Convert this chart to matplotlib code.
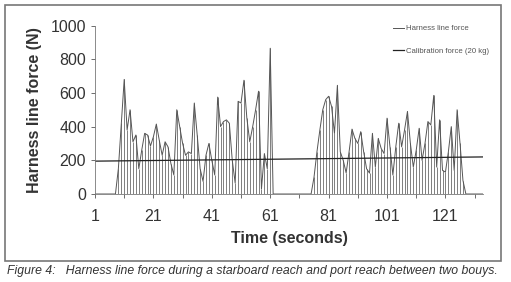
import numpy as np
import matplotlib
matplotlib.use("Agg")
import matplotlib.pyplot as plt

# time in seconds (category axis 1..134)
seconds = list(range(1, 135))

# harness line force (N), one value per second
harness_force = [
    0, 0, 0, 0, 0, 0, 0, 0, 150, 420,
    680, 380, 500, 310, 350, 150, 260, 360, 350, 285,
    340, 415, 320, 230, 310, 280, 180, 113, 500, 400,
    300, 230, 250, 240, 540, 350, 150, 75, 230, 300,
    200, 113, 575, 400, 430, 440, 420, 200, 65, 550,
    540, 675, 450, 310, 400, 500, 610, 30, 240, 150,
    865, 0, 0, 0, 0, 0, 0, 0, 0, 0,
    0, 0, 0, 0, 0, 100, 250, 380, 500, 560,
    580, 520, 360, 645, 250, 200, 125, 250, 385, 330,
    300, 370, 250, 150, 124, 360, 160, 330, 270, 240,
    450, 280, 113, 280, 420, 280, 380, 490, 300, 160,
    260, 390, 200, 300, 430, 410, 585, 160, 440, 140,
    130, 250, 400, 140, 500, 300, 80, 0, 0, 0,
    0, 0, 0, 0,
]

# calibration force (20 kg) trend line end points
calib_t = [1, 134]
calib_force = [195, 220]

y_ticks = [0, 200, 400, 600, 800, 1000]
x_tick_labels = [1, 21, 41, 61, 81, 101, 121]

plt.rcParams['font.family'] = ['Liberation Sans', 'DejaVu Sans']

fig = plt.figure(figsize=(5.11, 2.82), dpi=100)
ax = fig.add_axes([95 / 511, 1 - 194 / 282, (483.4 - 95) / 511, (194 - 25.5) / 282])

ax.vlines(seconds, 0, harness_force, color='#6a6a6a', linewidth=0.6)
ax.plot(seconds, harness_force, color='#555555', linewidth=0.7, label='Harness line force')
ax.plot(calib_t, calib_force, color='#222222', linewidth=0.9, label='Calibration force (20 kg)')

ax.set_xlim(1, 134)
ax.set_ylim(0, 1000)
ax.set_yticks(y_ticks)
ax.set_xticks(list(range(1, 135, 10)))
ax.set_xticklabels([str(t) if t in x_tick_labels else '' for t in range(1, 135, 10)])
ax.tick_params(axis='both', labelsize=11.5, color='#555555', labelcolor='#333333', length=3, width=0.6)
ax.tick_params(axis='x', pad=8)

for s in ['top', 'right']:
    ax.spines[s].set_visible(False)
for s in ['left', 'bottom']:
    ax.spines[s].set_color('#777777')
    ax.spines[s].set_linewidth(0.6)

ax.set_ylabel('Harness line force (N)', fontsize=11.5, fontweight='bold', color='#333333', labelpad=6)
ax.set_xlabel('Time (seconds)', fontsize=11.5, fontweight='bold', color='#333333', labelpad=5)

ax.legend(loc='upper left', bbox_to_anchor=(386 / 511, 1 - 18 / 282), bbox_transform=fig.transFigure,
          frameon=False, fontsize=5.6, handlelength=1.4, handletextpad=0.3, labelspacing=1.9,
          labelcolor='#555555')

# frame around the chart
frame = plt.Rectangle((5 / 511, 1 - 261 / 282), 496 / 511, 256 / 282, transform=fig.transFigure,
                      fill=False, edgecolor='#777777', linewidth=1.2)
fig.patches.append(frame)

fig.text(7 / 511, 1 - 271 / 282,
         'Figure 4:   Harness line force during a starboard reach and port reach between two bouys.',
         fontsize=8.8, style='italic', color='#333333', va='center', ha='left')

fig.savefig('out.png', dpi=100)
